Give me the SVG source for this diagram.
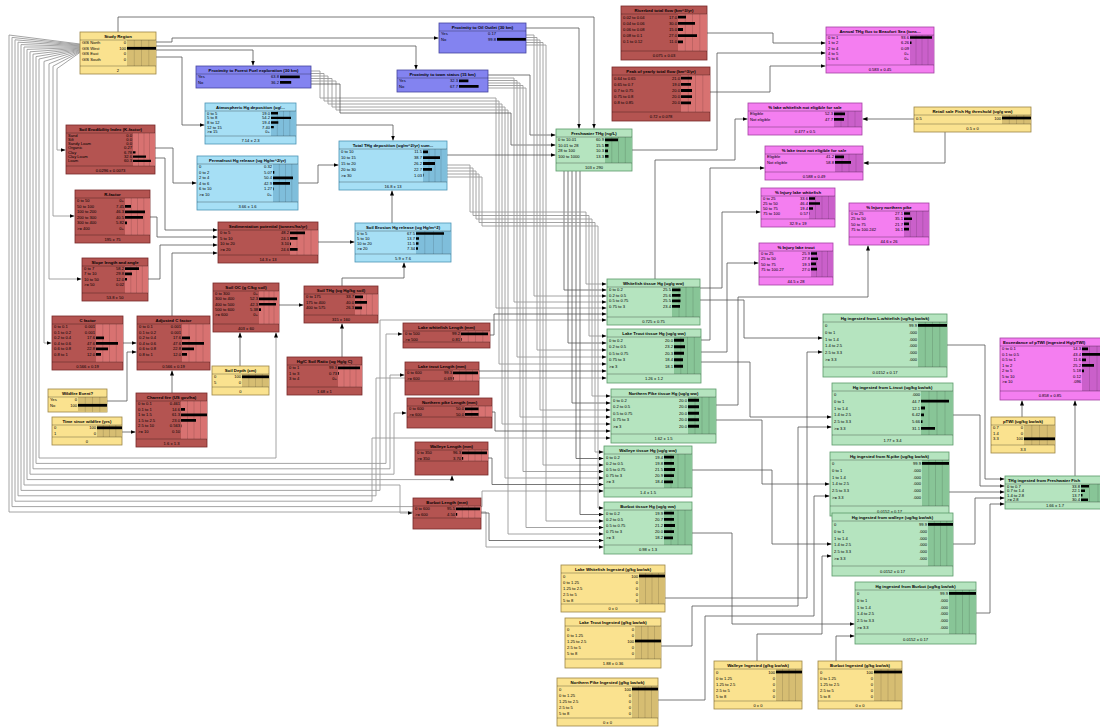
<svg xmlns="http://www.w3.org/2000/svg" width="1100" height="728" viewBox="0 0 1100 728">
<defs>
<style>
text{font-family:"Liberation Sans",Arial,sans-serif;fill:#000}
.t{font-size:4.3px;font-weight:bold;text-anchor:middle}
.tl{font-size:4.3px;font-weight:bold}
.s{font-size:4.1px}
.v{font-size:4.1px;text-anchor:end}
.f{font-size:4.1px;text-anchor:middle}
.y{fill:#fae28f;stroke:#9c8646;stroke-width:.8}
.ya{fill:#d6bd72}
.p{fill:#8383f0;stroke:#45459e;stroke-width:.8}
.b{fill:#a6dff5;stroke:#4b93b4;stroke-width:.8}
.ba{fill:#7fbedb}
.r{fill:#b45451;stroke:#772828;stroke-width:.8}
.ra{fill:#d87271}
.g{fill:#b5e4bf;stroke:#5b9a69;stroke-width:.8}
.ga{fill:#88c597}
.m{fill:#f47ef0;stroke:#a443a2;stroke-width:.8}
.ma{fill:#ca60ca}
.gl{stroke:#000;stroke-opacity:.3;stroke-width:.4;fill:none}
.sp{stroke:#000;stroke-opacity:.55;stroke-width:.5;fill:none}
.bar{fill:#000}
.c{fill:none;stroke:#555;stroke-width:.8;marker-end:url(#a)}
.cb{fill:none;stroke:#9a9a9a;stroke-width:.9;marker-end:url(#a)}
</style>
<marker id="a" viewBox="0 0 5 4" markerWidth="5" markerHeight="4" refX="5" refY="2" orient="auto" markerUnits="userSpaceOnUse"><path d="M0 0L5 2L0 4z" fill="#000"/></marker>
</defs>
<rect width="1100" height="728" fill="#fff"/>
<g id="connectors">
<path class="cb" d="M80 44L9 35V512H486V547H603.5"/>
<path class="cb" d="M80 44.6L12 37.4V506.6H482V491H603.5"/>
<path class="cb" d="M80 45.2L15 39.8V501.2H372V438H610.5"/>
<path class="cb" d="M80 45.8L18 42.2V495.8H376V378H606.5"/>
<path class="cb" d="M80 46.4L21 44.6V490.4H380V320H606.5"/>
<path class="cb" d="M80 47L24 47V485H400V513H412.5"/>
<path class="cb" d="M80 47.6L27 49.4V479.6H452V475.5"/>
<path class="cb" d="M80 48.2L30 51.8V474.2H394V413H406.5"/>
<path class="cb" d="M80 48.8L33 54.2V468.8H390V375H404.5"/>
<path class="cb" d="M80 49.4L36 56.6V463.4H386V334H402.5"/>
<path class="cb" d="M80 50L39 59V458H276V332.5"/>
<path class="cb" d="M80 50.6L44 61.4V343H51.5"/>
<path class="cb" d="M80 51.2L49 63.8V279H81.5"/>
<path class="cb" d="M80 51.8L53 66.2V216H74.5"/>
<path class="cb" d="M80 52.4L57 68.6V150H65.5"/>
<path class="c" d="M156 42H172V38H438.5"/>
<path class="c" d="M156 46H416V69.5"/>
<path class="c" d="M156 50H253V65.5"/>
<path class="c" d="M156 57H182V125H204.5"/>
<path class="c" d="M118 32V17H594V128.5"/>
<path class="c" d="M526 28H579V128.5"/>
<path class="cb" d="M311 71H320V98H496V308H606.5"/>
<path class="cb" d="M311 73.5H324V101H499V364H606.5"/>
<path class="cb" d="M311 76H328V104H502V424H610.5"/>
<path class="cb" d="M311 78.5H332V107H505V478H603.5"/>
<path class="cb" d="M311 81H336V110H508V534H603.5"/>
<path class="c" d="M311 84H340V113H511V145H555.5"/>
<path class="cb" d="M488 78H514V302H606.5"/>
<path class="cb" d="M488 80.5H517V357H606.5"/>
<path class="cb" d="M488 83H520V417H610.5"/>
<path class="cb" d="M488 85.5H523V471.5H603.5"/>
<path class="cb" d="M488 88H526V527.5H603.5"/>
<path class="c" d="M488 75H530V135H555.5"/>
<path class="cb" d="M526 35H534V296H606.5"/>
<path class="cb" d="M526 37.5H537V350H606.5"/>
<path class="cb" d="M526 40H540V410H610.5"/>
<path class="cb" d="M526 42.5H543V465H603.5"/>
<path class="cb" d="M526 45H546V521H603.5"/>
<path class="c" d="M564 171V290H606.5"/>
<path class="c" d="M568 171V343H606.5"/>
<path class="c" d="M572 171V403H610.5"/>
<path class="c" d="M576 171V458.5H603.5"/>
<path class="c" d="M580 171V514.5H603.5"/>
<path class="cb" d="M447 165H470V212H586V284H606.5"/>
<path class="cb" d="M447 168H473V215.5H589V336H606.5"/>
<path class="cb" d="M447 171H476V219H592V396H610.5"/>
<path class="cb" d="M447 174H479V222.5H595V452H603.5"/>
<path class="cb" d="M447 177H482V226H598V508H603.5"/>
<path class="c" d="M447 155H555.5"/>
<path class="c" d="M490 335H494V314H606.5"/>
<path class="c" d="M479 371H606.5"/>
<path class="c" d="M492 412H495V431H610.5"/>
<path class="c" d="M488 458H492V484.5H603.5"/>
<path class="c" d="M481 513H489V540.5H603.5"/>
<path class="c" d="M240 366V332.5"/>
<path class="c" d="M279 305H303.5"/>
<path class="c" d="M342 357V323.5"/>
<path class="c" d="M342 286V278H404V262.5"/>
<path class="c" d="M318 242H354.5"/>
<path class="c" d="M392 223V190.5"/>
<path class="c" d="M296 125H393V140.5"/>
<path class="c" d="M298 183H318V165H338.5"/>
<path class="c" d="M123 343H136.5"/>
<path class="c" d="M107 401H127V352H136.5"/>
<path class="c" d="M122 432H135.5"/>
<path class="c" d="M172 393V370.5"/>
<path class="c" d="M172 316V253H217.5"/>
<path class="c" d="M148 279H160V245H217.5"/>
<path class="c" d="M150 217H157V237H217.5"/>
<path class="c" d="M155 158H165V230H217.5"/>
<path class="c" d="M155 148H173V183H196.5"/>
<path class="c" d="M707 33H773V43H825.5"/>
<path class="c" d="M710 92H770V66H825.5"/>
<path class="c" d="M632 150H717V53H825.5"/>
<path class="c" d="M914 119H862.5"/>
<path class="c" d="M945 132V163H863.5"/>
<path class="c" d="M655 279V160H735V119H747.5"/>
<path class="c" d="M701 340H710V168H764.5"/>
<path class="c" d="M700 288H722V212H760.5"/>
<path class="c" d="M701 352H727V263H758.5"/>
<path class="c" d="M716 405H738V297H868V245.5"/>
<path class="c" d="M700 300H744V338H822.5"/>
<path class="c" d="M665 598H807V352H822.5"/>
<path class="c" d="M701 362H750V417H831.5"/>
<path class="c" d="M661 646H692V606H798V427H831.5"/>
<path class="c" d="M716 420H762V484H829.5"/>
<path class="c" d="M658 700H705V616H814V496H829.5"/>
<path class="c" d="M692 470H772V544H831.5"/>
<path class="c" d="M757 661V634H822V556H831.5"/>
<path class="c" d="M692 533H732V624H854.5"/>
<path class="c" d="M836 661V636H854.5"/>
<path class="c" d="M947 345H985V479H1004.5"/>
<path class="c" d="M953 415H980V486H1004.5"/>
<path class="c" d="M949 492H1004.5"/>
<path class="c" d="M953 544H975V498H1004.5"/>
<path class="c" d="M976 613H990V504H1004.5"/>
<path class="c" d="M1022 417V400.5"/>
<path class="c" d="M1075 476V400.5"/>
</g>
<g id="nodes">
<g id="study-region" transform="translate(80,32)"><rect class="y" width="76" height="42"/><rect class="ya" x="47" y="8" width="29" height="26"/><path class="gl" d="M54.3 8V34M61.5 8V34M68.8 8V34"/><path class="sp" d="M0 8H76M0 34H76"/><text class="t" x="38" y="6">Study Region</text><text class="s"><tspan x="2" y="12.3">GIS North</tspan><tspan x="2" y="17.8">GIS West</tspan><tspan x="2" y="23.3">GIS East</tspan><tspan x="2" y="28.8">GIS South</tspan></text><text class="v"><tspan x="46" y="12.3">0</tspan><tspan x="46" y="17.8">100</tspan><tspan x="46" y="23.3">0</tspan><tspan x="46" y="28.8">0</tspan></text><path class="bar" d="M47 14.9h29v2.8h-29z"/><text class="f" x="38" y="39.5">2</text></g>
<g id="prox-forest" transform="translate(196,66)"><rect class="p" width="115" height="22"/><path class="sp" d="M0 8H115"/><text class="t" x="57.5" y="6">Proximity to Forest Fuel exploration (30 km)</text><text class="s"><tspan x="2" y="12.3">Yes</tspan><tspan x="2" y="17.8">No</tspan></text><text class="v"><tspan x="83" y="12.3">63.8</tspan><tspan x="83" y="17.8">36.2</tspan></text><path class="bar" d="M84 9.4h19.8v2.8h-19.8zM84 14.9h11.2v2.8h-11.2z"/></g>
<g id="prox-oil" transform="translate(439,23)"><rect class="p" width="87" height="30"/><path class="sp" d="M0 8H87"/><text class="t" x="43.5" y="6">Proximity to Oil Outlet (30 km)</text><text class="s"><tspan x="2" y="12.3">Yes</tspan><tspan x="2" y="17.8">No</tspan></text><text class="v"><tspan x="57" y="12.3">0.17</tspan><tspan x="57" y="17.8">99.8</tspan></text><path class="bar" d="M58 14.9h28.9v2.8h-28.9z"/></g>
<g id="prox-town" transform="translate(397,70)"><rect class="p" width="91" height="22"/><path class="sp" d="M0 8H91"/><text class="t" x="45.5" y="6">Proximity to town status (15 km)</text><text class="s"><tspan x="2" y="12.3">Yes</tspan><tspan x="2" y="17.8">No</tspan></text><text class="v"><tspan x="61" y="12.3">32.3</tspan><tspan x="61" y="17.8">67.7</tspan></text><path class="bar" d="M62 9.4h9.4v2.8h-9.4zM62 14.9h19.6v2.8h-19.6z"/></g>
<g id="atmospheric-hg" transform="translate(205,103)"><rect class="b" width="91" height="41"/><rect class="ba" x="66" y="8" width="25" height="25"/><path class="gl" d="M72.3 8V33M78.5 8V33M84.8 8V33"/><path class="sp" d="M0 8H91M0 33H91"/><text class="t" x="45.5" y="6">Atmospheric Hg deposition (ug/...</text><text class="s"><tspan x="2" y="11.8">0 to 5</tspan><tspan x="2" y="16.4">5 to 8</tspan><tspan x="2" y="21">8 to 12</tspan><tspan x="2" y="25.6">12 to 15</tspan><tspan x="2" y="30.2">&gt;= 15</tspan></text><text class="v"><tspan x="65" y="11.8">19.0</tspan><tspan x="65" y="16.4">54.2</tspan><tspan x="65" y="21">19.4</tspan><tspan x="65" y="25.6">7.40</tspan><tspan x="65" y="30.2">0+</tspan></text><path class="bar" d="M66 9.1h7v2.4h-7zM66 13.7h20v2.4h-20zM66 18.3h7.3v2.4h-7.3zM66 22.9h2.8v2.4h-2.8z"/><text class="f" x="45.5" y="38.5">7.14 ± 2.3</text></g>
<g id="soil-erodibility" transform="translate(66,125)"><rect class="r" width="89" height="49"/><rect class="ra" x="67" y="8" width="22" height="33"/><path class="gl" d="M72.5 8V41M78 8V41M83.5 8V41"/><path class="sp" d="M0 8H89M0 41H89"/><text class="t" x="44.5" y="6">Soil Erodibility Index (K-factor)</text><text class="s"><tspan x="2" y="11.5">Sand</tspan><tspan x="2" y="15.8">Silt</tspan><tspan x="2" y="20.1">Sandy Loam</tspan><tspan x="2" y="24.4">Organic</tspan><tspan x="2" y="28.7">Clay</tspan><tspan x="2" y="33">Clay Loam</tspan><tspan x="2" y="37.3">Loam</tspan></text><text class="v"><tspan x="66" y="11.5">0.0</tspan><tspan x="66" y="15.8">0.0</tspan><tspan x="66" y="20.1">0.0</tspan><tspan x="66" y="24.4">0.27</tspan><tspan x="66" y="28.7">6.78</tspan><tspan x="66" y="33">32.6</tspan><tspan x="66" y="37.3">60.3</tspan></text><path class="bar" d="M67 26.25h2.5v2.2h-2.5zM67 30.55h13v2.2h-13zM67 34.85h18v2.2h-18z"/><text class="f" x="44.5" y="46.5">0.0296 ± 0.0073</text></g>
<g id="permafrost-hg" transform="translate(197,156)"><rect class="b" width="101" height="54"/><rect class="ba" x="76" y="8" width="25" height="38"/><path class="gl" d="M82.3 8V46M88.5 8V46M94.8 8V46"/><path class="sp" d="M0 8H101M0 46H101"/><text class="t" x="50.5" y="6">Permafrost Hg release (ug Hg/m^2/yr)</text><text class="s"><tspan x="2" y="12.3">0</tspan><tspan x="2" y="17.8">0 to 2</tspan><tspan x="2" y="23.3">2 to 4</tspan><tspan x="2" y="28.8">4 to 6</tspan><tspan x="2" y="34.3">6 to 10</tspan><tspan x="2" y="39.8">&gt;= 10</tspan></text><text class="v"><tspan x="75" y="12.3">0.32</tspan><tspan x="75" y="17.8">5.07</tspan><tspan x="75" y="23.3">50.4</tspan><tspan x="75" y="28.8">42.9</tspan><tspan x="75" y="34.3">1.27</tspan><tspan x="75" y="39.8">0+</tspan></text><path class="bar" d="M76 14.9h1.3v2.8h-1.3zM76 20.4h20v2.8h-20zM76 25.9h17v2.8h-17zM76 31.4h0.6v2.8h-0.6z"/><text class="f" x="50.5" y="51.5">3.66 ± 1.6</text></g>
<g id="total-thg-deposition" transform="translate(339,141)"><rect class="b" width="108" height="49"/><rect class="ba" x="84" y="8" width="24" height="33"/><path class="gl" d="M90 8V41M96 8V41M102 8V41"/><path class="sp" d="M0 8H108M0 41H108"/><text class="t" x="54" y="6">Total THg deposition (ug/m^2/yr) sum...</text><text class="s"><tspan x="2" y="12.4">0 to 10</tspan><tspan x="2" y="18.2">10 to 15</tspan><tspan x="2" y="24">15 to 20</tspan><tspan x="2" y="29.8">20 to 30</tspan><tspan x="2" y="35.6">&gt;= 30</tspan></text><text class="v"><tspan x="83" y="12.4">11.5</tspan><tspan x="83" y="18.2">38.7</tspan><tspan x="83" y="24">26.2</tspan><tspan x="83" y="29.8">22.7</tspan><tspan x="83" y="35.6">1.03</tspan></text><path class="bar" d="M84 9.5h5v2.8h-5zM84 15.3h17v2.8h-17zM84 21.1h12v2.8h-12zM84 26.9h9v2.8h-9zM84 32.7h0.5v2.8h-0.5z"/><text class="f" x="54" y="46.5">16.8 ± 13</text></g>
<g id="r-factor" transform="translate(75,190)"><rect class="r" width="75" height="53"/><rect class="ra" x="50" y="8" width="25" height="37"/><path class="gl" d="M56.3 8V45M62.5 8V45M68.8 8V45"/><path class="sp" d="M0 8H75M0 45H75"/><text class="t" x="37.5" y="6">R-factor</text><text class="s"><tspan x="2" y="12.3">0 to 50</tspan><tspan x="2" y="17.8">50 to 100</tspan><tspan x="2" y="23.3">100 to 200</tspan><tspan x="2" y="28.8">200 to 300</tspan><tspan x="2" y="34.3">300 to 400</tspan><tspan x="2" y="39.8">&gt;= 400</tspan></text><text class="v"><tspan x="49" y="12.3">0+</tspan><tspan x="49" y="17.8">7.45</tspan><tspan x="49" y="23.3">46.3</tspan><tspan x="49" y="28.8">40.5</tspan><tspan x="49" y="34.3">5.82</tspan><tspan x="49" y="39.8">0+</tspan></text><path class="bar" d="M50 14.9h6v2.8h-6zM50 20.4h20v2.8h-20zM50 25.9h18v2.8h-18zM50 31.4h2v2.8h-2z"/><text class="f" x="37.5" y="50.5">195 ± 75</text></g>
<g id="sedimentation" transform="translate(218,222)"><rect class="r" width="100" height="41"/><rect class="ra" x="72" y="8" width="28" height="25"/><path class="gl" d="M79 8V33M86 8V33M93 8V33"/><path class="sp" d="M0 8H100M0 33H100"/><text class="t" x="50" y="6">Sedimentation potential (tonnes/ha/yr)</text><text class="s"><tspan x="2" y="12.3">0 to 5</tspan><tspan x="2" y="17.8">5 to 10</tspan><tspan x="2" y="23.3">10 to 20</tspan><tspan x="2" y="28.8">&gt;= 20</tspan></text><text class="v"><tspan x="71" y="12.3">48.2</tspan><tspan x="71" y="17.8">24.1</tspan><tspan x="71" y="23.3">3.10</tspan><tspan x="71" y="28.8">24.6</tspan></text><path class="bar" d="M72 9.4h15v2.8h-15zM72 14.9h7.5v2.8h-7.5zM72 20.4h1v2.8h-1zM72 25.9h7.6v2.8h-7.6z"/><text class="f" x="50" y="38.5">14.3 ± 13</text></g>
<g id="soil-erosion-hg" transform="translate(355,223)"><rect class="b" width="96" height="39"/><rect class="ba" x="61" y="8" width="35" height="23"/><path class="gl" d="M69.8 8V31M78.5 8V31M87.3 8V31"/><path class="sp" d="M0 8H96M0 31H96"/><text class="t" x="48" y="6">Soil Erosion Hg release (ug Hg/m^2)</text><text class="s"><tspan x="2" y="12">0 to 5</tspan><tspan x="2" y="17">5 to 10</tspan><tspan x="2" y="22">10 to 20</tspan><tspan x="2" y="27">&gt;= 20</tspan></text><text class="v"><tspan x="60" y="12">67.5</tspan><tspan x="60" y="17">13.7</tspan><tspan x="60" y="22">11.5</tspan><tspan x="60" y="27">7.34</tspan></text><path class="bar" d="M61 9.2h28v2.6h-28zM61 14.2h3v2.6h-3zM61 19.2h2.5v2.6h-2.5zM61 24.2h2v2.6h-2z"/><text class="f" x="48" y="36.5">5.9 ± 7.6</text></g>
<g id="slope" transform="translate(82,258)"><rect class="r" width="66" height="43"/><rect class="ra" x="43" y="8" width="23" height="27"/><path class="gl" d="M48.8 8V35M54.5 8V35M60.3 8V35"/><path class="sp" d="M0 8H66M0 35H66"/><text class="t" x="33" y="6">Slope length and angle</text><text class="s"><tspan x="2" y="12.1">0 to 7</tspan><tspan x="2" y="17.4">7 to 10</tspan><tspan x="2" y="22.7">10 to 50</tspan><tspan x="2" y="28">&gt;= 50</tspan></text><text class="v"><tspan x="42" y="12.1">58.2</tspan><tspan x="42" y="17.4">29.8</tspan><tspan x="42" y="22.7">12.0</tspan><tspan x="42" y="28">0.02</tspan></text><path class="bar" d="M43 9.3h14v2.7h-14zM43 14.6h7v2.7h-7zM43 19.9h2v2.7h-2z"/><text class="f" x="33" y="40.5">53.8 ± 50</text></g>
<g id="soil-oc" transform="translate(213,283)"><rect class="r" width="66" height="49"/><rect class="ra" x="46" y="8" width="20" height="33"/><path class="gl" d="M51 8V41M56 8V41M61 8V41"/><path class="sp" d="M0 8H66M0 41H66"/><text class="t" x="33" y="6">Soil OC (g C/kg soil)</text><text class="s"><tspan x="2" y="12.1">0 to 300</tspan><tspan x="2" y="17.4">300 to 400</tspan><tspan x="2" y="22.7">400 to 500</tspan><tspan x="2" y="28">500 to 600</tspan><tspan x="2" y="33.3">&gt;= 600</tspan></text><text class="v"><tspan x="45" y="12.1">0+</tspan><tspan x="45" y="17.4">52.3</tspan><tspan x="45" y="22.7">42.3</tspan><tspan x="45" y="28">5.38</tspan><tspan x="45" y="33.3">0+</tspan></text><path class="bar" d="M46 14.6h18v2.7h-18zM46 19.9h17v2.7h-17zM46 25.2h2v2.7h-2z"/><text class="f" x="33" y="46.5">403 ± 60</text></g>
<g id="soil-thg" transform="translate(304,286)"><rect class="r" width="74" height="37"/><rect class="ra" x="51" y="8" width="23" height="21"/><path class="gl" d="M56.8 8V29M62.5 8V29M68.3 8V29"/><path class="sp" d="M0 8H74M0 29H74"/><text class="t" x="37" y="6">Soil THg (ug Hg/kg soil)</text><text class="s"><tspan x="2" y="12.3">0 to 175</tspan><tspan x="2" y="17.8">175 to 400</tspan><tspan x="2" y="23.3">400 to 575</tspan></text><text class="v"><tspan x="50" y="12.3">33.7</tspan><tspan x="50" y="17.8">40.0</tspan><tspan x="50" y="23.3">26.3</tspan></text><path class="bar" d="M51 9.4h8v2.8h-8zM51 14.9h12v2.8h-12zM51 20.4h7v2.8h-7z"/><text class="f" x="37" y="34.5">315 ± 160</text></g>
<g id="c-factor" transform="translate(52,316)"><rect class="r" width="71" height="54"/><rect class="ra" x="44" y="8" width="27" height="38"/><path class="gl" d="M50.8 8V46M57.5 8V46M64.3 8V46"/><path class="sp" d="M0 8H71M0 46H71"/><text class="t" x="35.5" y="6">C factor</text><text class="s"><tspan x="2" y="12.3">0 to 0.1</tspan><tspan x="2" y="17.8">0.1 to 0.2</tspan><tspan x="2" y="23.3">0.2 to 0.4</tspan><tspan x="2" y="28.8">0.4 to 0.6</tspan><tspan x="2" y="34.3">0.6 to 0.8</tspan><tspan x="2" y="39.8">0.8 to 1</tspan></text><text class="v"><tspan x="43" y="12.3">0.001</tspan><tspan x="43" y="17.8">0.001</tspan><tspan x="43" y="23.3">17.6</tspan><tspan x="43" y="28.8">47.6</tspan><tspan x="43" y="34.3">22.8</tspan><tspan x="43" y="39.8">12.0</tspan></text><path class="bar" d="M44 20.4h8v2.8h-8zM44 25.9h22v2.8h-22zM44 31.4h12v2.8h-12zM44 36.9h5v2.8h-5z"/><text class="f" x="35.5" y="51.5">0.566 ± 0.19</text></g>
<g id="adjusted-c-factor" transform="translate(137,316)"><rect class="r" width="73" height="54"/><rect class="ra" x="45" y="8" width="28" height="38"/><path class="gl" d="M52 8V46M59 8V46M66 8V46"/><path class="sp" d="M0 8H73M0 46H73"/><text class="t" x="36.5" y="6">Adjusted C factor</text><text class="s"><tspan x="2" y="12.3">0 to 0.1</tspan><tspan x="2" y="17.8">0.1 to 0.2</tspan><tspan x="2" y="23.3">0.2 to 0.4</tspan><tspan x="2" y="28.8">0.4 to 0.6</tspan><tspan x="2" y="34.3">0.6 to 0.8</tspan><tspan x="2" y="39.8">0.8 to 1</tspan></text><text class="v"><tspan x="44" y="12.3">0.001</tspan><tspan x="44" y="17.8">0.001</tspan><tspan x="44" y="23.3">17.6</tspan><tspan x="44" y="28.8">47.6</tspan><tspan x="44" y="34.3">22.8</tspan><tspan x="44" y="39.8">12.0</tspan></text><path class="bar" d="M45 20.4h8v2.8h-8zM45 25.9h22v2.8h-22zM45 31.4h12v2.8h-12zM45 36.9h5v2.8h-5z"/><text class="f" x="36.5" y="51.5">0.566 ± 0.19</text></g>
<g id="soil-depth" transform="translate(212,366)"><rect class="y" width="57" height="29"/><rect class="ya" x="30" y="8" width="27" height="13"/><path class="gl" d="M36.8 8V21M43.5 8V21M50.3 8V21"/><path class="sp" d="M0 8H57M0 21H57"/><text class="t" x="28.5" y="6">Soil Depth (cm)</text><text class="s"><tspan x="2" y="12.3">0</tspan><tspan x="2" y="17.8">5</tspan></text><text class="v"><tspan x="29" y="12.3">100</tspan><tspan x="29" y="17.8">0</tspan></text><path class="bar" d="M30 9.4h27v2.8h-27z"/><text class="f" x="28.5" y="26.5">0</text></g>
<g id="hg-c-ratio" transform="translate(287,357)"><rect class="r" width="75" height="38"/><rect class="ra" x="51" y="8" width="24" height="22"/><path class="gl" d="M57 8V30M63 8V30M69 8V30"/><path class="sp" d="M0 8H75M0 30H75"/><text class="t" x="37.5" y="6">Hg/C Soil Ratio (ug Hg/g C)</text><text class="s"><tspan x="2" y="12.3">0 to 1</tspan><tspan x="2" y="17.8">1 to 3</tspan><tspan x="2" y="23.3">3 to 4</tspan></text><text class="v"><tspan x="50" y="12.3">99.3</tspan><tspan x="50" y="17.8">0.73</tspan><tspan x="50" y="23.3">0+</tspan></text><path class="bar" d="M51 9.4h22v2.8h-22zM51 14.9h0.8v2.8h-0.8z"/><text class="f" x="37.5" y="35.5">1.68 ± 1</text></g>
<g id="wildfire-event" transform="translate(48,389)"><rect class="y" width="59" height="23"/><rect class="ya" x="30" y="8" width="29" height="15"/><path class="gl" d="M37.3 8V23M44.5 8V23M51.8 8V23"/><path class="sp" d="M0 8H59"/><text class="t" x="29.5" y="6">Wildfire Event?</text><text class="s"><tspan x="2" y="12.3">Yes</tspan><tspan x="2" y="17.8">No</tspan></text><text class="v"><tspan x="29" y="12.3">0</tspan><tspan x="29" y="17.8">100</tspan></text><path class="bar" d="M30 14.9h29v2.8h-29z"/></g>
<g id="time-since-wildfire" transform="translate(52,417)"><rect class="y" width="70" height="28"/><rect class="ya" x="45" y="8" width="25" height="12"/><path class="gl" d="M51.3 8V20M57.5 8V20M63.8 8V20"/><path class="sp" d="M0 8H70M0 20H70"/><text class="t" x="35" y="6">Time since wildfire (yrs)</text><text class="s"><tspan x="2" y="12.3">0</tspan><tspan x="2" y="17.8">1</tspan></text><text class="v"><tspan x="44" y="12.3">100</tspan><tspan x="44" y="17.8">0</tspan></text><path class="bar" d="M45 9.4h25v2.8h-25z"/><text class="f" x="35" y="25.5">0</text></g>
<g id="charred-fire" transform="translate(136,393)"><rect class="r" width="71" height="54"/><rect class="ra" x="45" y="8" width="26" height="38"/><path class="gl" d="M51.5 8V46M58 8V46M64.5 8V46"/><path class="sp" d="M0 8H71M0 46H71"/><text class="t" x="35.5" y="6">Charred fire (US gov/ha)</text><text class="s"><tspan x="2" y="12.3">0 to 0.1</tspan><tspan x="2" y="17.8">0.1 to 1</tspan><tspan x="2" y="23.3">1 to 1.5</tspan><tspan x="2" y="28.8">1.5 to 2.5</tspan><tspan x="2" y="34.3">2.5 to 10</tspan><tspan x="2" y="39.8">&gt;= 10</tspan></text><text class="v"><tspan x="44" y="12.3">0.461</tspan><tspan x="44" y="17.8">14.6</tspan><tspan x="44" y="23.3">61.3</tspan><tspan x="44" y="28.8">23.0</tspan><tspan x="44" y="34.3">0.563</tspan><tspan x="44" y="39.8">0.10</tspan></text><path class="bar" d="M45 14.9h4v2.8h-4zM45 20.4h26v2.8h-26zM45 25.9h15v2.8h-15zM45 31.4h0.4v2.8h-0.4z"/><text class="f" x="35.5" y="51.5">1.6 ± 1.3</text></g>
<g id="lake-whitefish-length" transform="translate(403,323)"><rect class="r" width="87" height="25"/><rect class="ra" x="58" y="8" width="29" height="11"/><path class="gl" d="M65.3 8V19M72.5 8V19M79.8 8V19"/><path class="sp" d="M0 8H87M0 19H87"/><text class="t" x="43.5" y="6">Lake whitefish Length (mm)</text><text class="s"><tspan x="2" y="12.3">0 to 500</tspan><tspan x="2" y="17.8">&gt;= 500</tspan></text><text class="v"><tspan x="57" y="12.3">99.2</tspan><tspan x="57" y="17.8">0.81</tspan></text><path class="bar" d="M58 9.4h27v2.8h-27zM58 14.9h0.6v2.8h-0.6z"/></g>
<g id="lake-trout-length" transform="translate(405,362)"><rect class="r" width="74" height="33"/><rect class="ra" x="48" y="8" width="26" height="11"/><path class="gl" d="M54.5 8V19M61 8V19M67.5 8V19"/><path class="sp" d="M0 8H74M0 19H74"/><text class="t" x="37" y="6">Lake trout Length (mm)</text><text class="s"><tspan x="2" y="12.3">0 to 600</tspan><tspan x="2" y="17.8">&gt;= 600</tspan></text><text class="v"><tspan x="47" y="12.3">99.3</tspan><tspan x="47" y="17.8">0.69</tspan></text><path class="bar" d="M48 9.4h25v2.8h-25zM48 14.9h0.6v2.8h-0.6z"/></g>
<g id="northern-pike-length" transform="translate(407,398)"><rect class="r" width="85" height="30"/><rect class="ra" x="58" y="8" width="27" height="11"/><path class="gl" d="M64.8 8V19M71.5 8V19M78.3 8V19"/><path class="sp" d="M0 8H85M0 19H85"/><text class="t" x="42.5" y="6">Northern pike Length (mm)</text><text class="s"><tspan x="2" y="12.3">0 to 600</tspan><tspan x="2" y="17.8">&gt;= 600</tspan></text><text class="v"><tspan x="57" y="12.3">50.0</tspan><tspan x="57" y="17.8">50.0</tspan></text><path class="bar" d="M58 9.4h13.5v2.8h-13.5zM58 14.9h13.5v2.8h-13.5z"/></g>
<g id="walleye-length" transform="translate(415,442)"><rect class="r" width="73" height="33"/><rect class="ra" x="47" y="8" width="26" height="11"/><path class="gl" d="M53.5 8V19M60 8V19M66.5 8V19"/><path class="sp" d="M0 8H73M0 19H73"/><text class="t" x="36.5" y="6">Walleye Length (mm)</text><text class="s"><tspan x="2" y="12.3">0 to 350</tspan><tspan x="2" y="17.8">&gt;= 350</tspan></text><text class="v"><tspan x="46" y="12.3">96.3</tspan><tspan x="46" y="17.8">3.70</tspan></text><path class="bar" d="M47 9.4h25v2.8h-25zM47 14.9h1.2v2.8h-1.2z"/></g>
<g id="burbot-length" transform="translate(413,498)"><rect class="r" width="68" height="31"/><rect class="ra" x="43" y="8" width="25" height="12"/><path class="gl" d="M49.3 8V20M55.5 8V20M61.8 8V20"/><path class="sp" d="M0 8H68M0 20H68"/><text class="t" x="34" y="6">Burbot Length (mm)</text><text class="s"><tspan x="2" y="12.3">0 to 600</tspan><tspan x="2" y="17.8">&gt;= 600</tspan></text><text class="v"><tspan x="42" y="12.3">95.5</tspan><tspan x="42" y="17.8">4.50</tspan></text><path class="bar" d="M43 9.4h24v2.8h-24zM43 14.9h1.2v2.8h-1.2z"/></g>
<g id="freshwater-thg" transform="translate(556,129)"><rect class="g" width="76" height="42"/><rect class="ga" x="49" y="8" width="27" height="26"/><path class="gl" d="M55.8 8V34M62.5 8V34M69.3 8V34"/><path class="sp" d="M0 8H76M0 34H76"/><text class="t" x="38" y="6">Freshwater THg (ng/L)</text><text class="s"><tspan x="2" y="12.3">0 to 10.01</tspan><tspan x="2" y="17.8">10.01 to 28</tspan><tspan x="2" y="23.3">28 to 100</tspan><tspan x="2" y="28.8">100 to 1000</tspan></text><text class="v"><tspan x="48" y="12.3">60.9</tspan><tspan x="48" y="17.8">15.5</tspan><tspan x="48" y="23.3">10.3</tspan><tspan x="48" y="28.8">13.3</tspan></text><path class="bar" d="M49 9.4h13v2.8h-13zM49 14.9h3.5v2.8h-3.5zM49 20.4h3v2.8h-3zM49 25.9h3.5v2.8h-3.5z"/><text class="f" x="38" y="39.5">103 ± 290</text></g>
<g id="riverbed-flow" transform="translate(621,6)"><rect class="r" width="86" height="54"/><rect class="ra" x="57" y="8" width="29" height="37"/><path class="gl" d="M64.3 8V45M71.5 8V45M78.8 8V45"/><path class="sp" d="M0 8H86M0 45H86"/><text class="t" x="43" y="6">Riverbed total flow (km^3/yr)</text><text class="s"><tspan x="2" y="12.6">0.02 to 0.04</tspan><tspan x="2" y="18.8">0.04 to 0.06</tspan><tspan x="2" y="25">0.06 to 0.08</tspan><tspan x="2" y="31.2">0.08 to 0.1</tspan><tspan x="2" y="37.4">0.1 to 0.12</tspan></text><text class="v"><tspan x="56" y="12.6">17.0</tspan><tspan x="56" y="18.8">30.0</tspan><tspan x="56" y="25">15.0</tspan><tspan x="56" y="31.2">27.0</tspan><tspan x="56" y="37.4">11.0</tspan></text><path class="bar" d="M57 9.7h8v2.8h-8zM57 15.9h17v2.8h-17zM57 22.1h5v2.8h-5zM57 28.3h19v2.8h-19zM57 34.5h5v2.8h-5z"/><text class="f" x="43" y="51">0.075 ± 0.03</text></g>
<g id="peak-flow" transform="translate(612,67)"><rect class="r" width="98" height="54"/><rect class="ra" x="69" y="8" width="29" height="37"/><path class="gl" d="M76.3 8V45M83.5 8V45M90.8 8V45"/><path class="sp" d="M0 8H98M0 45H98"/><text class="t" x="49" y="6">Peak of yearly total flow (km^3/yr)</text><text class="s"><tspan x="2" y="12.6">0.64 to 0.65</tspan><tspan x="2" y="18.8">0.65 to 0.7</tspan><tspan x="2" y="25">0.7 to 0.75</tspan><tspan x="2" y="31.2">0.75 to 0.8</tspan><tspan x="2" y="37.4">0.8 to 0.85</tspan></text><text class="v"><tspan x="68" y="12.6">21.0</tspan><tspan x="68" y="18.8">19.0</tspan><tspan x="68" y="25">20.0</tspan><tspan x="68" y="31.2">20.0</tspan><tspan x="68" y="37.4">20.0</tspan></text><path class="bar" d="M69 9.7h11v2.8h-11zM69 15.9h10v2.8h-10zM69 22.1h11v2.8h-11zM69 28.3h11v2.8h-11zM69 34.5h10v2.8h-10z"/><text class="f" x="49" y="51">0.72 ± 0.078</text></g>
<g id="annual-thg-flux" transform="translate(826,27)"><rect class="m" width="108" height="46"/><rect class="ma" x="84" y="8" width="24" height="30"/><path class="gl" d="M90 8V38M96 8V38M102 8V38"/><path class="sp" d="M0 8H108M0 38H108"/><text class="t" x="54" y="6">Annual THg flux to Beaufort Sea (tons...</text><text class="s"><tspan x="2" y="12.1">0 to 1</tspan><tspan x="2" y="17.3">1 to 2</tspan><tspan x="2" y="22.5">2 to 4</tspan><tspan x="2" y="27.7">4 to 5</tspan><tspan x="2" y="32.9">5 to 6</tspan></text><text class="v"><tspan x="83" y="12.1">93.6</tspan><tspan x="83" y="17.3">6.26</tspan><tspan x="83" y="22.5">0.09</tspan><tspan x="83" y="27.7">0+</tspan><tspan x="83" y="32.9">0+</tspan></text><path class="bar" d="M84 9.2h22v2.6h-22zM84 14.4h1.5v2.6h-1.5z"/><text class="f" x="54" y="43.5">0.583 ± 0.45</text></g>
<g id="lwf-not-eligible" transform="translate(748,103)"><rect class="m" width="114" height="32"/><rect class="ma" x="86" y="8" width="28" height="16"/><path class="gl" d="M93 8V24M100 8V24M107 8V24"/><path class="sp" d="M0 8H114M0 24H114"/><text class="t" x="57" y="6">% lake whitefish not eligible for sale</text><text class="s"><tspan x="2" y="12.3">Eligible</tspan><tspan x="2" y="17.8">Not eligible</tspan></text><text class="v"><tspan x="85" y="12.3">52.3</tspan><tspan x="85" y="17.8">47.7</tspan></text><path class="bar" d="M86 9.4h11v2.8h-11zM86 14.9h10v2.8h-10z"/><text class="f" x="57" y="29.5">0.477 ± 0.5</text></g>
<g id="lt-not-eligible" transform="translate(765,146)"><rect class="m" width="98" height="34"/><rect class="ma" x="70" y="8" width="28" height="18"/><path class="gl" d="M77 8V26M84 8V26M91 8V26"/><path class="sp" d="M0 8H98M0 26H98"/><text class="t" x="49" y="6">% lake trout not eligible for sale</text><text class="s"><tspan x="2" y="12.3">Eligible</tspan><tspan x="2" y="17.8">Not eligible</tspan></text><text class="v"><tspan x="69" y="12.3">41.2</tspan><tspan x="69" y="17.8">58.8</tspan></text><path class="bar" d="M70 9.4h9v2.8h-9zM70 14.9h16v2.8h-16z"/><text class="f" x="49" y="31.5">0.588 ± 0.49</text></g>
<g id="retail-threshold" transform="translate(914,107)"><rect class="y" width="117" height="25"/><rect class="ya" x="88" y="8" width="29" height="9"/><path class="gl" d="M95.3 8V17M102.5 8V17M109.8 8V17"/><path class="sp" d="M0 8H117M0 17H117"/><text class="t" x="58.5" y="6">Retail sale Fish Hg threshold (ug/g ww)</text><text class="s"><tspan x="2" y="12.5">0.5</tspan></text><text class="v"><tspan x="87" y="12.5">100</tspan></text><path class="bar" d="M88 9.6h29v2.8h-29z"/><text class="f" x="58.5" y="22.5">0.5 ± 0</text></g>
<g id="injury-lake-whitefish" transform="translate(761,188)"><rect class="m" width="74" height="39"/><rect class="ma" x="48" y="8" width="26" height="23"/><path class="gl" d="M54.5 8V31M61 8V31M67.5 8V31"/><path class="sp" d="M0 8H74M0 31H74"/><text class="t" x="37" y="6">% Injury lake whitefish</text><text class="s"><tspan x="2" y="12">0 to 25</tspan><tspan x="2" y="17">25 to 50</tspan><tspan x="2" y="22">50 to 75</tspan><tspan x="2" y="27">75 to 100</tspan></text><text class="v"><tspan x="47" y="12">33.6</tspan><tspan x="47" y="17">46.4</tspan><tspan x="47" y="22">19.4</tspan><tspan x="47" y="27">0.57</tspan></text><path class="bar" d="M48 9.2h6v2.6h-6zM48 14.2h11v2.6h-11zM48 19.2h4v2.6h-4zM48 24.2h0.3v2.6h-0.3z"/><text class="f" x="37" y="36.5">32.9 ± 19</text></g>
<g id="injury-northern-pike" transform="translate(849,203)"><rect class="m" width="80" height="42"/><rect class="ma" x="55" y="8" width="25" height="26"/><path class="gl" d="M61.3 8V34M67.5 8V34M73.8 8V34"/><path class="sp" d="M0 8H80M0 34H80"/><text class="t" x="40" y="6">% Injury northern pike</text><text class="s"><tspan x="2" y="12.1">0 to 25</tspan><tspan x="2" y="17.3">25 to 50</tspan><tspan x="2" y="22.5">50 to 75</tspan><tspan x="2" y="27.7">75 to 100.242</tspan></text><text class="v"><tspan x="54" y="12.1">27.1</tspan><tspan x="54" y="17.3">35.1</tspan><tspan x="54" y="22.5">21.7</tspan><tspan x="54" y="27.7">16.1</tspan></text><path class="bar" d="M55 9.2h6v2.6h-6zM55 14.4h8v2.6h-8zM55 19.6h5v2.6h-5zM55 24.8h5v2.6h-5z"/><text class="f" x="40" y="39.5">44.6 ± 26</text></g>
<g id="injury-lake-trout" transform="translate(759,243)"><rect class="m" width="74" height="42"/><rect class="ma" x="52" y="8" width="22" height="26"/><path class="gl" d="M57.5 8V34M63 8V34M68.5 8V34"/><path class="sp" d="M0 8H74M0 34H74"/><text class="t" x="37" y="6">% Injury lake trout</text><text class="s"><tspan x="2" y="12.1">0 to 25</tspan><tspan x="2" y="17.3">25 to 50</tspan><tspan x="2" y="22.5">50 to 75</tspan><tspan x="2" y="27.7">75 to 100.27</tspan></text><text class="v"><tspan x="51" y="12.1">25.9</tspan><tspan x="51" y="17.3">27.8</tspan><tspan x="51" y="22.5">19.3</tspan><tspan x="51" y="27.7">27.0</tspan></text><path class="bar" d="M52 9.2h6v2.6h-6zM52 14.4h7v2.6h-7zM52 19.6h5v2.6h-5zM52 24.8h6v2.6h-6z"/><text class="f" x="37" y="39.5">44.5 ± 28</text></g>
<g id="whitefish-tissue-hg" transform="translate(607,279)"><rect class="g" width="93" height="46"/><rect class="ga" x="65" y="8" width="28" height="30"/><path class="gl" d="M72 8V38M79 8V38M86 8V38"/><path class="sp" d="M0 8H93M0 38H93"/><text class="t" x="46.5" y="6">Whitefish tissue Hg (ug/g ww)</text><text class="s"><tspan x="2" y="12.3">0 to 0.2</tspan><tspan x="2" y="17.8">0.2 to 0.5</tspan><tspan x="2" y="23.3">0.5 to 0.75</tspan><tspan x="2" y="28.8">0.75 to 3</tspan></text><text class="v"><tspan x="64" y="12.3">25.5</tspan><tspan x="64" y="17.8">25.6</tspan><tspan x="64" y="23.3">25.5</tspan><tspan x="64" y="28.8">23.4</tspan></text><path class="bar" d="M65 9.4h8.5v2.8h-8.5zM65 14.9h8.5v2.8h-8.5zM65 20.4h8.5v2.8h-8.5zM65 25.9h8v2.8h-8z"/><text class="f" x="46.5" y="43.5">0.725 ± 0.75</text></g>
<g id="lake-trout-tissue-hg" transform="translate(607,329)"><rect class="g" width="94" height="54"/><rect class="ga" x="67" y="8" width="27" height="37"/><path class="gl" d="M73.8 8V45M80.5 8V45M87.3 8V45"/><path class="sp" d="M0 8H94M0 45H94"/><text class="t" x="47" y="6">Lake Trout tissue Hg (ug/g ww)</text><text class="s"><tspan x="2" y="12.8">0 to 0.2</tspan><tspan x="2" y="19.3">0.2 to 0.5</tspan><tspan x="2" y="25.8">0.5 to 0.75</tspan><tspan x="2" y="32.3">0.75 to 3</tspan><tspan x="2" y="38.8">&gt;= 3</tspan></text><text class="v"><tspan x="66" y="12.8">20.0</tspan><tspan x="66" y="19.3">23.2</tspan><tspan x="66" y="25.8">20.3</tspan><tspan x="66" y="32.3">18.4</tspan><tspan x="66" y="38.8">18.1</tspan></text><path class="bar" d="M67 9.85h10v2.8h-10zM67 16.35h11v2.8h-11zM67 22.85h10v2.8h-10zM67 29.35h9v2.8h-9zM67 35.85h9v2.8h-9z"/><text class="f" x="47" y="51">1.26 ± 1.2</text></g>
<g id="northern-pike-tissue-hg" transform="translate(611,389)"><rect class="g" width="105" height="54"/><rect class="ga" x="77" y="8" width="28" height="37"/><path class="gl" d="M84 8V45M91 8V45M98 8V45"/><path class="sp" d="M0 8H105M0 45H105"/><text class="t" x="52.5" y="6">Northern Pike tissue Hg (ug/g ww)</text><text class="s"><tspan x="2" y="12.8">0 to 0.2</tspan><tspan x="2" y="19.3">0.2 to 0.5</tspan><tspan x="2" y="25.8">0.5 to 0.75</tspan><tspan x="2" y="32.3">0.75 to 3</tspan><tspan x="2" y="38.8">&gt;= 3</tspan></text><text class="v"><tspan x="76" y="12.8">20.0</tspan><tspan x="76" y="19.3">20.0</tspan><tspan x="76" y="25.8">20.0</tspan><tspan x="76" y="32.3">20.0</tspan><tspan x="76" y="38.8">20.0</tspan></text><path class="bar" d="M77 9.85h11v2.8h-11zM77 16.35h11v2.8h-11zM77 22.85h11v2.8h-11zM77 29.35h11v2.8h-11zM77 35.85h11v2.8h-11z"/><text class="f" x="52.5" y="51">1.62 ± 1.5</text></g>
<g id="walleye-tissue-hg" transform="translate(604,446)"><rect class="g" width="88" height="51"/><rect class="ga" x="60" y="8" width="28" height="34"/><path class="gl" d="M67 8V42M74 8V42M81 8V42"/><path class="sp" d="M0 8H88M0 42H88"/><text class="t" x="44" y="6">Walleye tissue Hg (ug/g ww)</text><text class="s"><tspan x="2" y="12.6">0 to 0.2</tspan><tspan x="2" y="18.8">0.2 to 0.5</tspan><tspan x="2" y="25">0.5 to 0.75</tspan><tspan x="2" y="31.2">0.75 to 3</tspan><tspan x="2" y="37.4">&gt;= 3</tspan></text><text class="v"><tspan x="59" y="12.6">19.4</tspan><tspan x="59" y="18.8">19.8</tspan><tspan x="59" y="25">21.5</tspan><tspan x="59" y="31.2">20.9</tspan><tspan x="59" y="37.4">18.4</tspan></text><path class="bar" d="M60 9.7h10v2.8h-10zM60 15.9h10v2.8h-10zM60 22.1h11v2.8h-11zM60 28.3h10v2.8h-10zM60 34.5h9v2.8h-9z"/><text class="f" x="44" y="48">1.4 ± 1.5</text></g>
<g id="burbot-tissue-hg" transform="translate(604,502)"><rect class="g" width="88" height="52"/><rect class="ga" x="60" y="8" width="28" height="35"/><path class="gl" d="M67 8V43M74 8V43M81 8V43"/><path class="sp" d="M0 8H88M0 43H88"/><text class="t" x="44" y="6">Burbot tissue Hg (ug/g ww)</text><text class="s"><tspan x="2" y="12.6">0 to 0.2</tspan><tspan x="2" y="18.8">0.2 to 0.5</tspan><tspan x="2" y="25">0.5 to 0.75</tspan><tspan x="2" y="31.2">0.75 to 3</tspan><tspan x="2" y="37.4">&gt;= 3</tspan></text><text class="v"><tspan x="59" y="12.6">19.9</tspan><tspan x="59" y="18.8">20.7</tspan><tspan x="59" y="25">21.2</tspan><tspan x="59" y="31.2">20.0</tspan><tspan x="59" y="37.4">18.2</tspan></text><path class="bar" d="M60 9.7h10v2.8h-10zM60 15.9h10v2.8h-10zM60 22.1h11v2.8h-11zM60 28.3h10v2.8h-10zM60 34.5h9v2.8h-9z"/><text class="f" x="44" y="49">0.98 ± 1.3</text></g>
<g id="hg-ingested-whitefish" transform="translate(823,314)"><rect class="g" width="124" height="63"/><rect class="ga" x="95" y="8" width="29" height="45"/><path class="gl" d="M102.3 8V53M109.5 8V53M116.8 8V53"/><path class="sp" d="M0 8H124M0 53H124"/><text class="t" x="62" y="6">Hg ingested from L.whitefish (ug/kg bw/wk)</text><text class="s"><tspan x="2" y="12.9">0</tspan><tspan x="2" y="19.7">0 to 1</tspan><tspan x="2" y="26.5">1 to 1.4</tspan><tspan x="2" y="33.3">1.4 to 2.5</tspan><tspan x="2" y="40.1">2.5 to 3.3</tspan><tspan x="2" y="46.9">&gt;= 3.3</tspan></text><text class="v"><tspan x="94" y="12.9">99.9</tspan><tspan x="94" y="19.7">.000</tspan><tspan x="94" y="26.5">.000</tspan><tspan x="94" y="33.3">.000</tspan><tspan x="94" y="40.1">.000</tspan><tspan x="94" y="46.9">.000</tspan></text><path class="bar" d="M95 10h29v2.8h-29z"/><text class="f" x="62" y="59.5">0.0152 ± 0.17</text></g>
<g id="hg-ingested-trout" transform="translate(832,383)"><rect class="g" width="121" height="62"/><rect class="ga" x="89" y="8" width="32" height="44"/><path class="gl" d="M97 8V52M105 8V52M113 8V52"/><path class="sp" d="M0 8H121M0 52H121"/><text class="t" x="60.5" y="6">Hg ingested from L.trout (ug/kg bw/wk)</text><text class="s"><tspan x="2" y="12.9">0</tspan><tspan x="2" y="19.7">0 to 1</tspan><tspan x="2" y="26.5">1 to 1.4</tspan><tspan x="2" y="33.3">1.4 to 2.5</tspan><tspan x="2" y="40.1">2.5 to 3.3</tspan><tspan x="2" y="46.9">&gt;= 3.3</tspan></text><text class="v"><tspan x="88" y="12.9">.000</tspan><tspan x="88" y="19.7">44.7</tspan><tspan x="88" y="26.5">12.1</tspan><tspan x="88" y="33.3">6.42</tspan><tspan x="88" y="40.1">5.66</tspan><tspan x="88" y="46.9">31.1</tspan></text><path class="bar" d="M89 16.8h28v2.8h-28zM89 23.6h4v2.8h-4zM89 30.4h3v2.8h-3zM89 37.2h1.5v2.8h-1.5zM89 44h14v2.8h-14z"/><text class="f" x="60.5" y="58.5">1.77 ± 3.4</text></g>
<g id="hg-ingested-pike" transform="translate(830,452)"><rect class="g" width="119" height="64"/><rect class="ga" x="92" y="8" width="27" height="46"/><path class="gl" d="M98.8 8V54M105.5 8V54M112.3 8V54"/><path class="sp" d="M0 8H119M0 54H119"/><text class="t" x="59.5" y="6">Hg ingested from N.pike (ug/kg bw/wk)</text><text class="s"><tspan x="2" y="12.9">0</tspan><tspan x="2" y="19.7">0 to 1</tspan><tspan x="2" y="26.5">1 to 1.4</tspan><tspan x="2" y="33.3">1.4 to 2.5</tspan><tspan x="2" y="40.1">2.5 to 3.3</tspan><tspan x="2" y="46.9">&gt;= 3.3</tspan></text><text class="v"><tspan x="91" y="12.9">99.9</tspan><tspan x="91" y="19.7">.000</tspan><tspan x="91" y="26.5">.000</tspan><tspan x="91" y="33.3">.000</tspan><tspan x="91" y="40.1">.000</tspan><tspan x="91" y="46.9">.000</tspan></text><path class="bar" d="M92 10h27v2.8h-27z"/><text class="f" x="59.5" y="60.5">0.0152 ± 0.17</text></g>
<g id="hg-ingested-walleye" transform="translate(832,513)"><rect class="g" width="121" height="63"/><rect class="ga" x="96" y="8" width="25" height="45"/><path class="gl" d="M102.3 8V53M108.5 8V53M114.8 8V53"/><path class="sp" d="M0 8H121M0 53H121"/><text class="t" x="60.5" y="6">Hg ingested from walleye (ug/kg bw/wk)</text><text class="s"><tspan x="2" y="12.9">0</tspan><tspan x="2" y="19.7">0 to 1</tspan><tspan x="2" y="26.5">1 to 1.4</tspan><tspan x="2" y="33.3">1.4 to 2.5</tspan><tspan x="2" y="40.1">2.5 to 3.3</tspan><tspan x="2" y="46.9">&gt;= 3.3</tspan></text><text class="v"><tspan x="95" y="12.9">99.9</tspan><tspan x="95" y="19.7">.000</tspan><tspan x="95" y="26.5">.000</tspan><tspan x="95" y="33.3">.000</tspan><tspan x="95" y="40.1">.000</tspan><tspan x="95" y="46.9">.000</tspan></text><path class="bar" d="M96 10h25v2.8h-25z"/><text class="f" x="60.5" y="59.5">0.0152 ± 0.17</text></g>
<g id="hg-ingested-burbot" transform="translate(855,582)"><rect class="g" width="121" height="62"/><rect class="ga" x="94" y="8" width="27" height="44"/><path class="gl" d="M100.8 8V52M107.5 8V52M114.3 8V52"/><path class="sp" d="M0 8H121M0 52H121"/><text class="t" x="60.5" y="6">Hg ingested from Burbot (ug/kg bw/wk)</text><text class="s"><tspan x="2" y="12.9">0</tspan><tspan x="2" y="19.7">0 to 1</tspan><tspan x="2" y="26.5">1 to 1.4</tspan><tspan x="2" y="33.3">1.4 to 2.5</tspan><tspan x="2" y="40.1">2.5 to 3.3</tspan><tspan x="2" y="46.9">&gt;= 3.3</tspan></text><text class="v"><tspan x="93" y="12.9">99.9</tspan><tspan x="93" y="19.7">.000</tspan><tspan x="93" y="26.5">.000</tspan><tspan x="93" y="33.3">.000</tspan><tspan x="93" y="40.1">.000</tspan><tspan x="93" y="46.9">.000</tspan></text><path class="bar" d="M94 10h27v2.8h-27z"/><text class="f" x="60.5" y="58.5">0.0152 ± 0.17</text></g>
<g id="exceedance-ptwi" transform="translate(1000,338)"><rect class="m" width="112" height="62"/><rect class="ma" x="82" y="8" width="30" height="45"/><path class="gl" d="M89.5 8V53M97 8V53M104.5 8V53"/><path class="sp" d="M0 8H112M0 53H112"/><text class="tl" x="3" y="6">Exceedance of pTWI (ingested Hg/pTWI)</text><text class="s"><tspan x="2" y="12.3">0 to 0.1</tspan><tspan x="2" y="17.8">0.1 to 0.5</tspan><tspan x="2" y="23.3">0.5 to 1</tspan><tspan x="2" y="28.8">1 to 2</tspan><tspan x="2" y="34.3">2 to 5</tspan><tspan x="2" y="39.8">5 to 10</tspan><tspan x="2" y="45.3">&gt;= 10</tspan></text><text class="v"><tspan x="81" y="12.3">14.3</tspan><tspan x="81" y="17.8">43.4</tspan><tspan x="81" y="23.3">11.6</tspan><tspan x="81" y="28.8">25.2</tspan><tspan x="81" y="34.3">5.18</tspan><tspan x="81" y="39.8">0.12</tspan><tspan x="81" y="45.3">.096</tspan></text><path class="bar" d="M82 9.4h6v2.8h-6zM82 14.9h18v2.8h-18zM82 20.4h4v2.8h-4zM82 25.9h12v2.8h-12zM82 31.4h2v2.8h-2z"/><text class="f" x="50" y="59">0.858 ± 0.85</text></g>
<g id="ptwi" transform="translate(991,417)"><rect class="y" width="64" height="36"/><rect class="ya" x="33" y="8" width="31" height="20"/><path class="gl" d="M40.8 8V28M48.5 8V28M56.3 8V28"/><path class="sp" d="M0 8H64M0 28H64"/><text class="t" x="32" y="6">pTWI (ug/kg bw/wk)</text><text class="s"><tspan x="2" y="12.3">0.7</tspan><tspan x="2" y="17.8">1.4</tspan><tspan x="2" y="23.3">3.3</tspan></text><text class="v"><tspan x="32" y="12.3">0</tspan><tspan x="32" y="17.8">0</tspan><tspan x="32" y="23.3">100</tspan></text><path class="bar" d="M33 20.4h31v2.8h-31z"/><text class="f" x="32" y="33.5">3.3</text></g>
<g id="thg-ingested-fish" transform="translate(1005,476)"><rect class="g" width="110" height="33"/><rect class="ga" x="76" y="8" width="34" height="18"/><path class="gl" d="M84.5 8V26M93 8V26M101.5 8V26"/><path class="sp" d="M0 8H110M0 26H110"/><text class="tl" x="3" y="6">THg ingested from Freshwater Fish</text><text class="s"><tspan x="2" y="11.7">0 to 0.7</tspan><tspan x="2" y="16.2">0.7 to 1.4</tspan><tspan x="2" y="20.7">1.4 to 2.8</tspan><tspan x="2" y="25.2">&gt;= 2.8</tspan></text><text class="v"><tspan x="75" y="11.7">33.8</tspan><tspan x="75" y="16.2">22.1</tspan><tspan x="75" y="20.7">13.7</tspan><tspan x="75" y="25.2">30.4</tspan></text><path class="bar" d="M76 9.05h8v2.4h-8zM76 13.55h4v2.4h-4zM76 18.05h1.5v2.4h-1.5zM76 22.55h7v2.4h-7z"/><text class="f" x="50" y="31">1.66 ± 1.7</text></g>
<g id="lake-whitefish-ingested" transform="translate(561,565)"><rect class="y" width="104" height="47"/><rect class="ya" x="78" y="8" width="26" height="31"/><path class="gl" d="M84.5 8V39M91 8V39M97.5 8V39"/><path class="sp" d="M0 8H104M0 39H104"/><text class="t" x="52" y="6">Lake Whitefish Ingested (g/kg bw/wk)</text><text class="s"><tspan x="2" y="12.5">0</tspan><tspan x="2" y="18.5">0 to 1.25</tspan><tspan x="2" y="24.5">1.25 to 2.5</tspan><tspan x="2" y="30.5">2.5 to 5</tspan><tspan x="2" y="36.5">5 to 8</tspan></text><text class="v"><tspan x="77" y="12.5">100</tspan><tspan x="77" y="18.5">0</tspan><tspan x="77" y="24.5">0</tspan><tspan x="77" y="30.5">0</tspan><tspan x="77" y="36.5">0</tspan></text><path class="bar" d="M78 9.6h26v2.8h-26z"/><text class="f" x="52" y="44.5">0 ± 0</text></g>
<g id="lake-trout-ingested" transform="translate(565,618)"><rect class="y" width="96" height="50"/><rect class="ya" x="70" y="8" width="26" height="33"/><path class="gl" d="M76.5 8V41M83 8V41M89.5 8V41"/><path class="sp" d="M0 8H96M0 41H96"/><text class="t" x="48" y="6">Lake Trout Ingested (g/kg bw/wk)</text><text class="s"><tspan x="2" y="12.5">0</tspan><tspan x="2" y="18.5">0 to 1.25</tspan><tspan x="2" y="24.5">1.25 to 2.5</tspan><tspan x="2" y="30.5">2.5 to 5</tspan><tspan x="2" y="36.5">5 to 8</tspan></text><text class="v"><tspan x="69" y="12.5">0</tspan><tspan x="69" y="18.5">0</tspan><tspan x="69" y="24.5">100</tspan><tspan x="69" y="30.5">0</tspan><tspan x="69" y="36.5">0</tspan></text><path class="bar" d="M70 21.6h26v2.8h-26z"/><text class="f" x="48" y="47">1.88 ± 0.36</text></g>
<g id="northern-pike-ingested" transform="translate(557,678)"><rect class="y" width="101" height="48"/><rect class="ya" x="75" y="8" width="26" height="32"/><path class="gl" d="M81.5 8V40M88 8V40M94.5 8V40"/><path class="sp" d="M0 8H101M0 40H101"/><text class="t" x="50.5" y="6">Northern Pike Ingested (g/kg bw/wk)</text><text class="s"><tspan x="2" y="12.5">0</tspan><tspan x="2" y="18.5">0 to 1.25</tspan><tspan x="2" y="24.5">1.25 to 2.5</tspan><tspan x="2" y="30.5">2.5 to 5</tspan><tspan x="2" y="36.5">5 to 8</tspan></text><text class="v"><tspan x="74" y="12.5">100</tspan><tspan x="74" y="18.5">0</tspan><tspan x="74" y="24.5">0</tspan><tspan x="74" y="30.5">0</tspan><tspan x="74" y="36.5">0</tspan></text><path class="bar" d="M75 9.6h26v2.8h-26z"/><text class="f" x="50.5" y="45.5">0 ± 0</text></g>
<g id="walleye-ingested" transform="translate(714,661)"><rect class="y" width="88" height="48"/><rect class="ya" x="62" y="8" width="26" height="32"/><path class="gl" d="M68.5 8V40M75 8V40M81.5 8V40"/><path class="sp" d="M0 8H88M0 40H88"/><text class="t" x="44" y="6">Walleye Ingested (g/kg bw/wk)</text><text class="s"><tspan x="2" y="12.5">0</tspan><tspan x="2" y="18.5">0 to 1.25</tspan><tspan x="2" y="24.5">1.25 to 2.5</tspan><tspan x="2" y="30.5">2.5 to 5</tspan><tspan x="2" y="36.5">5 to 8</tspan></text><text class="v"><tspan x="61" y="12.5">100</tspan><tspan x="61" y="18.5">0</tspan><tspan x="61" y="24.5">0</tspan><tspan x="61" y="30.5">0</tspan><tspan x="61" y="36.5">0</tspan></text><path class="bar" d="M62 9.6h26v2.8h-26z"/><text class="f" x="44" y="45.5">0 ± 0</text></g>
<g id="burbot-ingested" transform="translate(818,661)"><rect class="y" width="84" height="48"/><rect class="ya" x="56" y="8" width="28" height="32"/><path class="gl" d="M63 8V40M70 8V40M77 8V40"/><path class="sp" d="M0 8H84M0 40H84"/><text class="t" x="42" y="6">Burbot Ingested (g/kg bw/wk)</text><text class="s"><tspan x="2" y="12.5">0</tspan><tspan x="2" y="18.5">0 to 1.25</tspan><tspan x="2" y="24.5">1.25 to 2.5</tspan><tspan x="2" y="30.5">2.5 to 5</tspan><tspan x="2" y="36.5">5 to 8</tspan></text><text class="v"><tspan x="55" y="12.5">100</tspan><tspan x="55" y="18.5">0</tspan><tspan x="55" y="24.5">0</tspan><tspan x="55" y="30.5">0</tspan><tspan x="55" y="36.5">0</tspan></text><path class="bar" d="M56 9.6h28v2.8h-28z"/><text class="f" x="42" y="45.5">0 ± 0</text></g>
</g>
</svg>
